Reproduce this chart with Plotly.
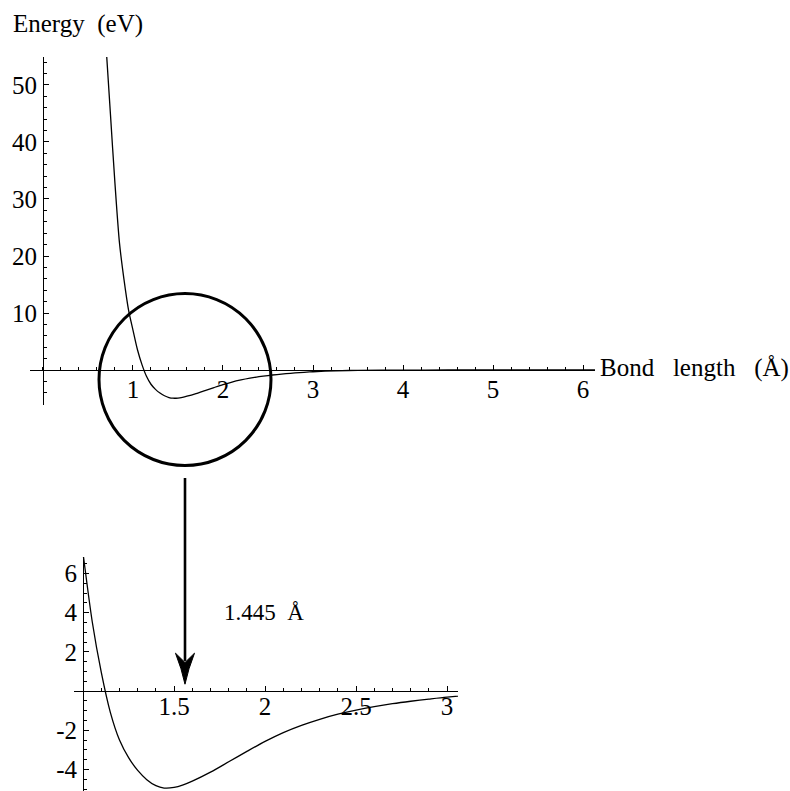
import plotly.graph_objects as go

# Potential energy curve E(r), read at these bond lengths (Å) / energies (eV)
bond_length = [0.70, 0.75, 0.80, 0.85, 0.90, 0.95, 1.00, 1.05, 1.10, 1.15,
               1.20, 1.25, 1.30, 1.35, 1.40, 1.445, 1.50, 1.55, 1.60, 1.70,
               1.80, 1.90, 2.00, 2.10, 2.20, 2.30, 2.40, 2.50, 2.60, 2.70,
               2.80, 2.90, 3.00, 3.25, 3.50, 4.00, 4.50, 5.00, 6.00, 6.20]
energy = [57.0, 44.8, 32.7, 22.3, 15.9, 10.6, 7.0, 3.55, 0.95, -1.1,
          -2.5, -3.4, -4.05, -4.52, -4.83, -4.95, -4.92, -4.79, -4.6, -4.14,
          -3.61, -3.08, -2.57, -2.12, -1.75, -1.44, -1.18, -0.97, -0.795, -0.645,
          -0.52, -0.41, -0.31, -0.14, -0.06, -0.015, -0.004, 0.0, 0.0, 0.0]

minimum_r = 1.445

top_x_ticks = [1, 2, 3, 4, 5, 6]
top_y_ticks = [10, 20, 30, 40, 50]
inset_x_ticks = [1.5, 2, 2.5, 3]
inset_x_text = ["1.5", "2", "2.5", "3"]
inset_y_ticks = [-4, -2, 2, 4, 6]
inset_y_text = ["-4", "-2", "2", "4", "6"]

W, H = 790, 791
FONT = "Liberation Serif"

# axis ranges and their domains (paper fractions)
TOP_XR, TOP_XD = [-0.144, 6.133], [30 / W, 595 / W]
TOP_YR, TOP_YD = [-6.14, 54.91], [1 - 405 / H, 1 - 57 / H]
IN_XR, IN_XD = [0.95, 3.06], [74 / W, 458 / W]
IN_YR, IN_YD = [-5.1, 6.84], [0.0, 1 - 557 / H]


def frac(v, rng, dom):
    return dom[0] + (v - rng[0]) / (rng[1] - rng[0]) * (dom[1] - dom[0])


fig = go.Figure()
line_style = dict(color="black", width=1.3, shape="spline", smoothing=0.8)
fig.add_trace(go.Scatter(x=bond_length, y=energy, mode="lines", line=line_style,
                         xaxis="x", yaxis="y", hoverinfo="skip"))
fig.add_trace(go.Scatter(x=bond_length, y=energy, mode="lines", line=line_style,
                         xaxis="x2", yaxis="y2", hoverinfo="skip"))

tick_font = dict(family=FONT, size=25, color="black")
common = dict(showgrid=False, zeroline=False, showline=True, linecolor="black",
              linewidth=1, ticks="inside", ticklen=5, tickwidth=1,
              tickcolor="black", tickfont=tick_font, anchor="free",
              tickmode="array", fixedrange=True)

fig.update_layout(
    width=W, height=H, margin=dict(l=0, r=0, t=0, b=0),
    paper_bgcolor="white", plot_bgcolor="rgba(0,0,0,0)", showlegend=False,
    xaxis=dict(common, range=TOP_XR, domain=TOP_XD,
               position=frac(0, TOP_YR, TOP_YD), side="bottom",
               tickvals=top_x_ticks, ticktext=[str(v) for v in top_x_ticks],
               minor=dict(dtick=0.2, tick0=0, ticks="inside", ticklen=3,
                          tickcolor="black"),
               ticklabelstandoff=-3),
    yaxis=dict(common, range=TOP_YR, domain=TOP_YD,
               position=frac(0, TOP_XR, TOP_XD), side="left",
               tickvals=top_y_ticks, ticktext=[str(v) for v in top_y_ticks],
               minor=dict(dtick=2, tick0=0, ticks="inside", ticklen=3,
                          tickcolor="black"),
               ticklabelstandoff=1),
    xaxis2=dict(common, range=IN_XR, domain=IN_XD,
                position=frac(0, IN_YR, IN_YD), side="bottom",
                tickvals=inset_x_ticks, ticktext=inset_x_text,
                minor=dict(dtick=0.1, tick0=0, ticks="inside", ticklen=3,
                           tickcolor="black"),
                ticklabelstandoff=-7),
    yaxis2=dict(common, range=IN_YR, domain=IN_YD,
                position=frac(1, IN_XR, IN_XD), side="left",
                tickvals=inset_y_ticks, ticktext=inset_y_text,
                minor=dict(dtick=0.5, tick0=0, ticks="inside", ticklen=3,
                           tickcolor="black"),
                ticklabelstandoff=1),
)

# magnifier circle around the well of the main curve
cx = frac(1.578, TOP_XR, TOP_XD)
cy = frac(-1.67, TOP_YR, TOP_YD)
rad_x, rad_y = 86 / W, 86 / H
fig.add_shape(type="circle", xref="paper", yref="paper",
              x0=cx - rad_x, x1=cx + rad_x, y0=cy - rad_y, y1=cy + rad_y,
              line=dict(color="black", width=3))

# arrow from the circle down to the enlarged view
tip_y = frac(0.35, IN_YR, IN_YD)
top_y = cy - rad_y - 12.5 / H
head_w, head_l = 9.5 / W, 31 / H
fig.add_shape(type="line", xref="paper", yref="paper",
              x0=cx, x1=cx, y0=top_y, y1=tip_y + 0.75 * head_l,
              line=dict(color="black", width=2.6))
fig.add_shape(type="path", xref="paper", yref="paper",
              path=(f"M {cx},{tip_y} "
                    f"Q {cx - 0.35 * head_w},{tip_y + 0.5 * head_l} {cx - head_w},{tip_y + head_l} "
                    f"L {cx},{tip_y + 0.7 * head_l} "
                    f"L {cx + head_w},{tip_y + head_l} "
                    f"Q {cx + 0.35 * head_w},{tip_y + 0.5 * head_l} {cx},{tip_y} Z"),
              fillcolor="black", line=dict(color="black", width=1))

label_font = dict(family=FONT, size=25, color="black")
fig.add_annotation(text="Energy\u00a0\u00a0(eV)", xref="paper", yref="paper",
                   x=11 / W, y=1 - 24 / H, xanchor="left", yanchor="middle",
                   showarrow=False, font=label_font)
fig.add_annotation(text="Bond\u00a0\u00a0\u00a0length\u00a0\u00a0\u00a0(Å)",
                   xref="paper", yref="paper", x=598 / W,
                   y=frac(0, TOP_YR, TOP_YD) + 2 / H,
                   xanchor="left", yanchor="middle", showarrow=False,
                   font=label_font)
fig.add_annotation(text=f"{minimum_r}\u00a0\u00a0Å", xref="paper", yref="paper",
                   x=222 / W, y=1 - 612 / H, xanchor="left", yanchor="middle",
                   showarrow=False, font=dict(family=FONT, size=23, color="black"))

fig.write_html("out.html")
